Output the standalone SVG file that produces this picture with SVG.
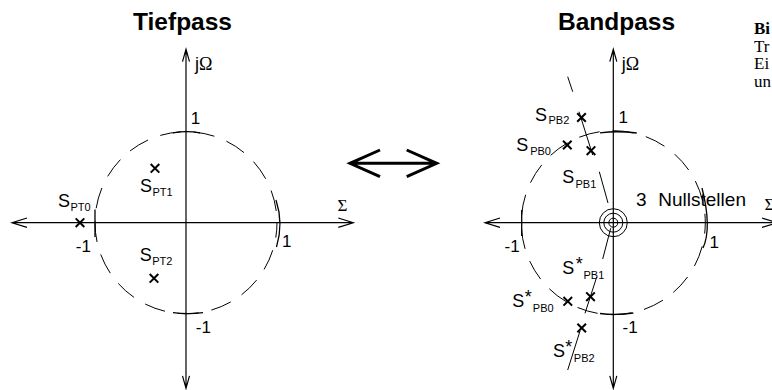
<svg xmlns="http://www.w3.org/2000/svg" width="772" height="390" viewBox="0 0 772 390">
<style>
.ax{stroke:#000;stroke-width:1.2;fill:none}
.tk{stroke:#000;stroke-width:1.3;fill:none}
.dc{stroke:#000;stroke-width:1;fill:none;stroke-dasharray:21 13}
.cr{stroke:#000;stroke-width:2;fill:none}
.ln{stroke:#000;stroke-width:1;fill:none}
.ttl{font-family:"Liberation Sans",Arial,sans-serif;font-weight:bold;font-size:24.5px;text-anchor:middle;fill:#000}
.lbl{font-family:"Liberation Sans",Arial,sans-serif;font-size:18px;fill:#000}
.big{font-family:"Liberation Sans",Arial,sans-serif;font-size:19px;fill:#000}
.sub{font-family:"Liberation Sans",Arial,sans-serif;font-size:11px;fill:#000}
.num{font-family:"Liberation Sans",Arial,sans-serif;font-size:17px;fill:#000}
.ser{font-family:"Liberation Serif","Times New Roman",serif;fill:#000}
.cap{font-family:"Liberation Serif","Times New Roman",serif;font-size:17px;fill:#000}
</style>
<defs>
<path id="x" d="M-4.3,-4.3L4.3,4.3M-4.3,4.3L4.3,-4.3" class="cr"/>
</defs>

<g id="tiefpass">
<text class="ttl" x="182.5" y="30">Tiefpass</text>
<g id="tp-axes">
<path class="ax" d="M12,222.7H353.3M27,218L12,222.7L27,227.4M338.3,218L353.3,222.7L338.3,227.4"/>
<path class="ax" d="M186,49.3V388.3M182.5,61.7L186,49.3L189.5,61.7M182.5,375.8L186,388.3L189.5,375.8"/>
</g>
<circle class="dc" cx="186" cy="222.7" r="91" stroke-dashoffset="6"/>
<path class="tk" d="M173,132.8Q186.5,130.6 200,132.8"/>
<path class="tk" d="M173,312.6Q188,314.8 203,312.6"/>
<path class="tk" d="M95,209.5V237"/>
<path class="tk" d="M276,200Q283.7,223.5 276.5,247"/>
<text class="lbl" x="195" y="70">j<tspan class="ser">Ω</tspan></text>
<text class="ser" font-size="17" x="337.5" y="211">Σ</text>
<text class="num" x="190.8" y="124">1</text>
<text class="num" x="282" y="247">1</text>
<text class="num" x="75.8" y="251.7">-1</text>
<text class="num" x="195.8" y="333">-1</text>
<g id="spt1"><use href="#x" x="155" y="168.3"/><text class="lbl" x="140" y="191.5">S</text><text class="sub" x="152.5" y="196">PT1</text></g>
<g id="spt0"><use href="#x" x="80" y="222.7"/><text class="lbl" x="58" y="206.5">S</text><text class="sub" x="70.5" y="210.5">PT0</text></g>
<g id="spt2"><use href="#x" x="154" y="278.3"/><text class="lbl" x="139.7" y="261">S</text><text class="sub" x="152.2" y="265">PT2</text></g>
</g>

<g id="transform-arrow">
<path d="M350,163.3H436.7M380,150L350,163.3L380,176.7M406.7,150L436.7,163.3L406.7,176.7" stroke="#000" stroke-width="3" fill="none"/>
</g>

<g id="bandpass">
<text class="ttl" x="616.5" y="29.5">Bandpass</text>
<g id="bp-axes">
<path class="ax" d="M485,222.7H777M500,218L485,222.7L500,227.4M762,218L777,222.7L762,227.4"/>
<path class="ax" d="M613.3,49.3V388.3M609.8,61.7L613.3,49.3L616.8,61.7M609.8,375.8L613.3,388.3L616.8,375.8"/>
</g>
<circle class="dc" cx="613.3" cy="222.7" r="92" stroke-dashoffset="10"/>
<path class="tk" d="M600,132.8Q618,130.6 636.7,133"/>
<path class="tk" d="M600,313.5Q616.5,315.5 633.3,313"/>
<path class="tk" d="M521.7,210V236"/>
<path class="tk" d="M702,188Q712.1,228 703,248"/>
<g id="zeros">
<circle class="ln" cx="613.3" cy="222.7" r="14"/>
<circle class="ln" cx="613.3" cy="222.7" r="9.5"/>
<circle class="ln" cx="613.3" cy="222.7" r="4.5"/>
</g>
<g id="radial-lines">
<path class="ln" d="M608,203L599.3,171.7M592.7,155L579,111.7M572.7,91.7L567.7,76.7"/>
<path class="ln" d="M610.7,228.3L602.7,259M596.7,277L585,313.3M580,331L567.7,370"/>
</g>
<text class="lbl" x="621.7" y="70">j<tspan class="ser">Ω</tspan></text>
<text class="ser" font-size="17" x="764.5" y="210">Σ</text>
<text class="num" x="618.5" y="123">1</text>
<text class="num" x="709.5" y="248">1</text>
<text class="num" x="504.5" y="251.7">-1</text>
<text class="num" x="622.5" y="333">-1</text>
<text class="big"><tspan x="636" y="206">3</tspan><tspan x="658.3" y="206">Nullstellen</tspan></text>
<g id="spb2"><use href="#x" x="581.5" y="117.5"/><text class="lbl" x="535" y="120.7">S</text><text class="sub" x="548.5" y="123.5">PB2</text></g>
<g id="spb0"><use href="#x" x="567.3" y="145"/><text class="lbl" x="516.3" y="150.7">S</text><text class="sub" x="530.2" y="155">PB0</text></g>
<g id="spb1"><use href="#x" x="591" y="150.7"/><text class="lbl" x="562.3" y="183.3">S</text><text class="sub" x="575.5" y="187.5">PB1</text></g>
<g id="spb1c"><use href="#x" x="590.5" y="296.7"/><text class="lbl" x="562.3" y="274">S</text><text class="lbl" x="575.7" y="270">*</text><text class="sub" x="583.5" y="279.3">PB1</text></g>
<g id="spb0c"><use href="#x" x="567.8" y="301.3"/><text class="lbl" x="512.3" y="306.7">S</text><text class="lbl" x="524.7" y="302.7">*</text><text class="sub" x="532.8" y="311.7">PB0</text></g>
<g id="spb2c"><use href="#x" x="581.7" y="328"/><text class="lbl" x="553" y="356.7">S</text><text class="lbl" x="565.3" y="352.7">*</text><text class="sub" x="573.8" y="361.7">PB2</text></g>
</g>

<g id="caption">
<text class="cap" font-weight="bold" x="754" y="34">Bi</text>
<text class="cap" x="754" y="51.5">Tr</text>
<text class="cap" x="754" y="69">Ei</text>
<text class="cap" x="754" y="86.5">un</text>
</g>
</svg>
